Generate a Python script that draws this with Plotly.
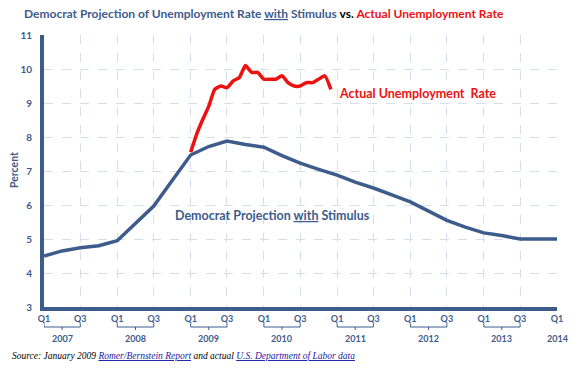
import pandas as pd
import plotly.graph_objects as go

# ---- data ----
proj_values = [4.5, 4.65, 4.74, 4.8, 4.95, 5.45, 5.97, 6.72, 7.47, 7.72, 7.88, 7.78, 7.7,
               7.45, 7.23, 7.05, 6.88, 6.67, 6.5, 6.3, 6.09, 5.82, 5.55, 5.35, 5.18, 5.1,
               5.0, 5.0, 5.0]
proj_dates = pd.date_range("2007-01-01", periods=len(proj_values), freq="QS")

actual_values = [7.55, 8.1, 8.5, 8.9, 9.4, 9.5, 9.45, 9.65, 9.75, 10.1, 9.9, 9.9,
                 9.7, 9.7, 9.7, 9.8, 9.6, 9.5, 9.5, 9.6, 9.6, 9.7, 9.8, 9.4]
actual_dates = pd.date_range("2009-01-01", periods=len(actual_values), freq="MS")

years = [2007, 2008, 2009, 2010, 2011, 2012, 2013]
tick_dates = [f"{y}-{m}-01" for y in years for m in ("01", "07")] + ["2014-01-01"]
tick_text = ["Q1", "Q3"] * len(years) + ["Q1"]

BLUE = "#3d5c8c"
RED = "#ee1111"
FONT = "Lato"

fig = go.Figure()
fig.add_trace(go.Scatter(x=proj_dates, y=proj_values, mode="lines",
                         line=dict(color=BLUE, width=3.5), hoverinfo="skip"))
fig.add_trace(go.Scatter(x=actual_dates, y=actual_values, mode="lines",
                         line=dict(color=RED, width=3.5, shape="spline", smoothing=0.5),
                         hoverinfo="skip"))

# plot area px: x 44..557, y 35..307
def py(p):
    return (307 - p) / 272.0

shapes = []
annotations = []
for y in years:
    a, m, b = f"{y}-01-01", f"{y}-04-01", f"{y}-07-01"
    shapes.append(dict(type="line", xref="x", yref="paper", x0=a, x1=b, y0=py(327), y1=py(327),
                       line=dict(color=BLUE, width=1)))
    shapes.append(dict(type="line", xref="x", yref="paper", x0=a, x1=a, y0=py(327), y1=py(324),
                       line=dict(color=BLUE, width=1)))
    shapes.append(dict(type="line", xref="x", yref="paper", x0=b, x1=b, y0=py(327), y1=py(324),
                       line=dict(color=BLUE, width=1)))
    shapes.append(dict(type="line", xref="x", yref="paper", x0=m, x1=m, y0=py(327), y1=py(330),
                       line=dict(color=BLUE, width=1)))
    annotations.append(dict(x=m, y=py(338), xref="x", yref="paper", text=str(y), showarrow=False,
                            font=dict(family=FONT, size=9, color=BLUE, weight="bold"),
                            xanchor="center", yanchor="middle"))
annotations.append(dict(x="2014-01-01", y=py(338), xref="x", yref="paper", text="2014", showarrow=False,
                        font=dict(family=FONT, size=9, color=BLUE, weight="bold"),
                        xanchor="center", yanchor="middle"))

title = ("<span style='color:%s'>Democrat Projection of Unemployment Rate <u>with</u> Stimulus</span> "
         "<span style='color:#000000'>vs.</span> "
         "<span style='color:%s'>Actual Unemployment Rate</span>") % (BLUE, RED)
annotations.append(dict(x=(22 - 44) / 513, y=py(13), xref="paper", yref="paper", text=title,
                        showarrow=False, xanchor="left", yanchor="middle",
                        font=dict(family=FONT, size=12, weight="bold")))
annotations.append(dict(x=(14 - 44) / 513, y=py(170), xref="paper", yref="paper", text="Percent",
                        showarrow=False, textangle=-90, xanchor="center", yanchor="middle",
                        font=dict(family=FONT, size=10.5, color=BLUE, weight="bold")))
annotations.append(dict(x="2011-01-01", y=9.27, xref="x", yref="y", text="Actual Unemployment  Rate",
                        showarrow=False, xanchor="left", yanchor="middle",
                        font=dict(family=FONT, size=12.5, color=RED, weight="bold")))
annotations.append(dict(x="2010-02-15", y=5.7, xref="x", yref="y",
                        text="Democrat Projection <u>with</u> Stimulus",
                        showarrow=False, xanchor="center", yanchor="middle",
                        font=dict(family=FONT, size=12.5, color=BLUE, weight="bold")))
src = ("<i>Source: January 2009 "
       "<span style='color:#1a1aa6'><u>Romer/Bernstein Report</u></span> and actual "
       "<span style='color:#1a1aa6'><u>U.S. Department of Labor data</u></span></i>")
annotations.append(dict(x=(10 - 44) / 513, y=py(356), xref="paper", yref="paper", text=src,
                        showarrow=False, xanchor="left", yanchor="middle",
                        font=dict(family="Liberation Serif", size=9.5, color="#000000")))

fig.update_layout(
    width=581, height=370,
    margin=dict(l=44, r=24, t=35, b=63),
    paper_bgcolor="white", plot_bgcolor="white",
    showlegend=False,
    shapes=shapes, annotations=annotations,
    xaxis=dict(type="date", range=["2007-01-01", "2014-01-01"],
               tickvals=tick_dates, ticktext=tick_text, tickangle=0,
               showgrid=True, gridcolor="#d5dee9", griddash="dash", gridwidth=1,
               showline=True, linecolor=BLUE, linewidth=4, zeroline=False,
               ticks="", tickfont=dict(family=FONT, size=9, color=BLUE, weight="bold")),
    yaxis=dict(range=[3, 11], dtick=1, tick0=3,
               showgrid=True, gridcolor="#d5dee9", griddash="dash", gridwidth=1,
               showline=True, linecolor=BLUE, linewidth=4, zeroline=False,
               ticks="", ticklabelstandoff=6,
               tickfont=dict(family=FONT, size=10, color=BLUE, weight="bold")),
)

fig.write_html("out.html", config={"displayModeBar": False},
               post_script="document.body.style.margin='0px';")
